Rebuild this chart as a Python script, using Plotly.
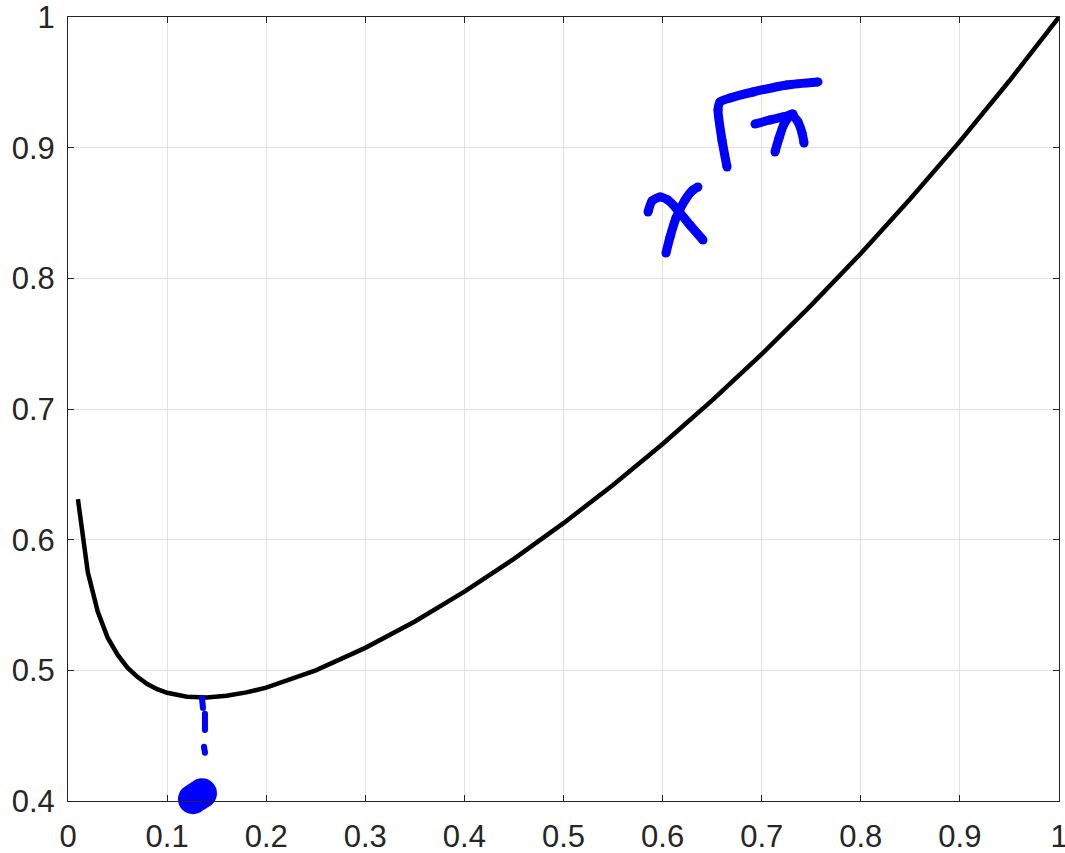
import plotly.graph_objects as go

# Main curve
curve_x = [0.01, 0.02, 0.03, 0.04, 0.05, 0.06, 0.07, 0.08, 0.09, 0.10,
           0.12, 0.14, 0.16, 0.18, 0.20, 0.25, 0.30, 0.35, 0.40, 0.45,
           0.50, 0.55, 0.60, 0.65, 0.70, 0.75, 0.80, 0.85, 0.90, 0.95, 1.00]
curve_y = [0.631, 0.575, 0.545, 0.525, 0.512, 0.502, 0.495, 0.4895, 0.4856, 0.4828,
           0.4798, 0.4792, 0.4805, 0.4831, 0.4868, 0.500, 0.5172, 0.5374, 0.5602, 0.5853,
           0.6126, 0.6419, 0.6732, 0.7066, 0.7420, 0.7795, 0.8190, 0.8609, 0.9048, 0.9512, 1.000]

# Hand-drawn blue annotation strokes (data coordinates)
stroke_a_x = [0.5853, 0.5893, 0.5974, 0.6054, 0.6135, 0.6276, 0.6408]
stroke_a_y = [0.8508, 0.8592, 0.8622, 0.8599, 0.8538, 0.8408, 0.8293]
stroke_b_x = [0.6034, 0.6075, 0.6135, 0.6226, 0.6307, 0.6357]
stroke_b_y = [0.8194, 0.8316, 0.8462, 0.8599, 0.8676, 0.8699]
radical_x = [0.6650, 0.6599, 0.6559, 0.6579, 0.6680, 0.6912, 0.7255, 0.7568]
radical_y = [0.8852, 0.9059, 0.9288, 0.9350, 0.9380, 0.9426, 0.9480, 0.9503]
stroke_c_x = [0.6932, 0.7084, 0.7215, 0.7316]
stroke_c_y = [0.9181, 0.9212, 0.9235, 0.9258]
stroke_d_x = [0.7306, 0.7366, 0.7407, 0.7427]
stroke_d_y = [0.9258, 0.9197, 0.9112, 0.9036]
stroke_e_x = [0.7134, 0.7175, 0.7225, 0.7286]
stroke_e_y = [0.8967, 0.9074, 0.9181, 0.9250]
dash1_x = [0.1352, 0.1362]
dash1_y = [0.4789, 0.4712]
dash2_x = [0.1382, 0.1382]
dash2_y = [0.4667, 0.4544]
dash3_x = [0.1372, 0.1382]
dash3_y = [0.4415, 0.4369]
blob_x = [0.1261, 0.1307, 0.1352]
blob_y = [0.4014, 0.4037, 0.4059]

x_ticks = [0, 0.1, 0.2, 0.3, 0.4, 0.5, 0.6, 0.7, 0.8, 0.9, 1]
x_labels = ["0", "0.1", "0.2", "0.3", "0.4", "0.5", "0.6", "0.7", "0.8", "0.9", "1"]
y_ticks = [0.4, 0.5, 0.6, 0.7, 0.8, 0.9, 1]
y_labels = ["0.4", "0.5", "0.6", "0.7", "0.8", "0.9", "1"]

BLUE = "#0000ff"
INK = "#262626"

fig = go.Figure()
fig.add_trace(go.Scatter(x=curve_x, y=curve_y, mode="lines",
                         line=dict(color="black", width=4.5), hoverinfo="skip"))

for sx, sy in [(stroke_a_x, stroke_a_y), (stroke_b_x, stroke_b_y), (radical_x, radical_y),
               (stroke_c_x, stroke_c_y), (stroke_d_x, stroke_d_y), (stroke_e_x, stroke_e_y)]:
    fig.add_trace(go.Scatter(x=sx, y=sy, mode="lines+markers",
                             line=dict(color=BLUE, width=9, shape="spline", smoothing=0.6),
                             marker=dict(color=BLUE, size=9), hoverinfo="skip"))

for sx, sy in [(dash1_x, dash1_y), (dash2_x, dash2_y), (dash3_x, dash3_y)]:
    fig.add_trace(go.Scatter(x=sx, y=sy, mode="lines+markers",
                             line=dict(color=BLUE, width=6),
                             marker=dict(color=BLUE, size=6), hoverinfo="skip"))

fig.add_trace(go.Scatter(x=blob_x, y=blob_y, mode="markers", cliponaxis=False,
                         marker=dict(color=BLUE, size=30, line=dict(width=0)),
                         hoverinfo="skip"))

axis_common = dict(showline=True, linecolor=INK, linewidth=1, mirror="ticks",
                   ticks="inside", ticklen=6, tickcolor=INK, tickwidth=1,
                   showgrid=True, gridcolor="#e1e1e1", gridwidth=1, zeroline=False,
                   automargin=False, ticklabeloverflow="allow",
                   tickfont=dict(family="Liberation Sans, Arial, sans-serif", size=31, color=INK))

fig.update_xaxes(range=[0, 1], tickvals=x_ticks, ticktext=x_labels,
                 ticklabelstandoff=8, **axis_common)
fig.update_yaxes(range=[0.4, 1], tickvals=y_ticks, ticktext=y_labels,
                 ticklabelstandoff=6, **axis_common)

fig.update_layout(width=1065, height=853, showlegend=False,
                  plot_bgcolor="white", paper_bgcolor="white",
                  margin=dict(l=68, r=6, t=17, b=52))

fig.write_html("out.html", config={"displayModeBar": False},
               post_script="document.body.style.margin='0';document.body.style.overflow='hidden';")
